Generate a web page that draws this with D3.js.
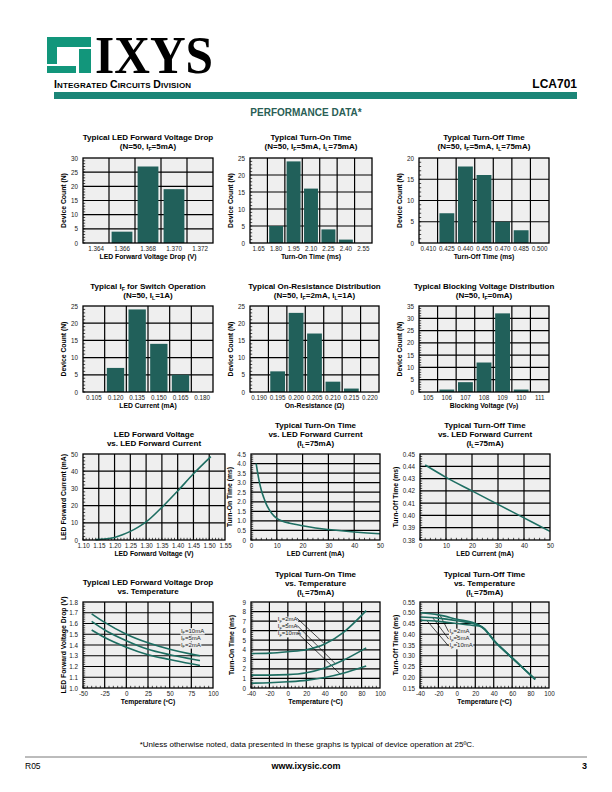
<!DOCTYPE html>
<html><head><meta charset="utf-8">
<script src="https://cdn.jsdelivr.net/npm/d3@7"></script>
<style>body{margin:0;background:#fff}</style>
</head><body>
<svg id="page" width="612" height="792" xmlns="http://www.w3.org/2000/svg"></svg>
<script>
// ---------------- DATA ----------------
const c1Cats = ["1.364","1.366","1.368","1.370","1.372"];
const c1Vals = [0,4,27,19,0];
const c1YTicks = [0,5,10,15,20,25,30];

const c2Cats = ["1.65","1.80","1.95","2.10","2.25","2.40","2.55"];
const c2Vals = [0,5,24,16,4,1,0];
const c2YTicks = [0,5,10,15,20,25];

const c3Cats = ["0.410","0.425","0.440","0.455","0.470","0.485","0.500"];
const c3Vals = [0,7,18,16,5,3,0];
const c3YTicks = [0,5,10,15,20];

const c4Cats = ["0.105","0.120","0.135","0.150","0.165","0.180"];
const c4Vals = [0,7,24,14,5,0];
const c4YTicks = [0,5,10,15,20,25];

const c5Cats = ["0.190","0.195","0.200","0.205","0.210","0.215","0.220"];
const c5Vals = [0,6,23,17,3,1,0];
const c5YTicks = [0,5,10,15,20,25];

const c6Cats = ["105","106","107","108","109","110","111"];
const c6Vals = [0,1,4,12,32,1,0];
const c6YTicks = [0,5,10,15,20,25,30,35];

// LED forward voltage (V) vs current (mA)
const c7Volt = [1.14,1.17,1.20,1.225,1.25,1.275,1.30,1.35,1.40,1.45,1.505];
const c7Curr = [0.2,0.6,1.5,3,5,7.5,10.5,19,28.5,38.5,48.5];
const c7XTicks = [1.10,1.15,1.20,1.25,1.30,1.35,1.40,1.45,1.50,1.55];
const c7YTicks = [0,10,20,30,40,50];

// Turn-on time (ms) vs LED current (mA)
const c8Curr = [2,3,4,5,6,7,8,10,12,15,20,25,30,35,40,45,50];
const c8Ton  = [4.0,3.2,2.6,2.2,1.85,1.6,1.4,1.13,1.0,0.88,0.75,0.63,0.55,0.48,0.42,0.37,0.33];
const c8XTicks = [0,10,20,30,40,50];
const c8YTicks = [0,0.5,1.0,1.5,2.0,2.5,3.0,3.5,4.0,4.5];

// Turn-off time (ms) vs LED current (mA)
const c9Curr = [2,10,20,30,40,50];
const c9Toff = [0.441,0.431,0.420,0.409,0.398,0.387];
const c9XTicks = [0,10,20,30,40,50];
const c9YTicks = [0.38,0.39,0.40,0.41,0.42,0.43,0.44,0.45];

// LED forward voltage drop vs temperature
const c10Temp = [-40,-25,0,25,50,75,85];
const c10Vf10 = [1.69,1.61,1.50,1.42,1.36,1.315,1.30];
const c10Vf5  = [1.62,1.54,1.44,1.36,1.31,1.27,1.255];
const c10Vf2  = [1.54,1.47,1.38,1.31,1.265,1.225,1.21];
const c10XTicks = [-50,-25,0,25,50,75,100];
const c10YTicks = [1.0,1.1,1.2,1.3,1.4,1.5,1.6,1.7,1.8];
const c10Labels = ["I{F}=10mA","I{F}=5mA","I{F}=2mA"];

// Turn-on time vs temperature
const c11Temp = [-40,-20,0,20,40,60,85];
const c11Ton2  = [3.6,3.65,3.8,4.0,4.6,5.8,8.1];
const c11Ton5  = [1.35,1.35,1.4,1.6,2.1,2.9,4.2];
const c11Ton10 = [0.5,0.55,0.65,0.8,1.1,1.55,2.3];
const c11XTicks = [-40,-20,0,20,40,60,80,100];
const c11YTicks = [0,1,2,3,4,5,6,7,8,9];
const c11Labels = ["I{F}=2mA","I{F}=5mA","I{F}=10mA"];

// Turn-off time vs temperature
const c12Temp = [-40,-20,0,20,25,30,35,40,50,60,70,85];
const c12Toff2  = [0.50,0.49,0.47,0.45,0.44,0.425,0.40,0.372,0.33,0.29,0.25,0.19];
const c12Toff5  = [0.48,0.475,0.463,0.447,0.44,0.425,0.40,0.372,0.33,0.29,0.25,0.19];
const c12Toff10 = [0.465,0.46,0.45,0.44,0.437,0.423,0.40,0.372,0.33,0.29,0.25,0.19];
const c12XTicks = [-40,-20,0,20,40,60,80,100];
const c12YTicks = [0.15,0.20,0.25,0.30,0.35,0.40,0.45,0.50,0.55];
const c12Labels = ["I{F}=2mA","I{F}=5mA","I{F}=10mA"];

// ---------------- STYLE ----------------
const NARROW = "'Liberation Sans Narrow','Arial Narrow','Liberation Sans',Arial,sans-serif";
const SANS = "'Liberation Sans',Arial,Helvetica,sans-serif";
const BAR = "#21605a";
const LINE = "#1d6e62";
const BG = "#efefef";
const TEAL = "#1b8577";
const intFmt = d => String(d);

const svg = d3.select("#page");

function rich(g, x, y, str, o = {}) {
  const fs = o.size || 7;
  const t = g.append("text").attr("x", x).attr("y", y)
    .attr("font-family", o.family || NARROW)
    .attr("font-size", fs)
    .attr("font-weight", o.weight || "normal")
    .attr("text-anchor", o.anchor || "middle")
    .attr("fill", o.fill || "#000");
  if (o.rotate) t.attr("transform", `rotate(-90,${x},${y})`);
  const parts = str.split(/(\{[^}]*\})/).filter(s => s.length);
  let shifted = false;
  parts.forEach(p => {
    if (p[0] === "{") {
      t.append("tspan").attr("dy", fs * 0.25).attr("font-size", fs * 0.65).text(p.slice(1, -1));
      shifted = true;
    } else {
      const sp = t.append("tspan").text(p);
      if (shifted) { sp.attr("dy", -fs * 0.25); shifted = false; }
    }
  });
  return t;
}

function titles(g, cx, ys, lines) {
  lines.forEach((l, i) => rich(g, cx, ys[i], l, { size: 8, weight: "bold" }));
}

function frame(g, x0, x1, y0, y1) {
  g.append("rect").attr("x", x0).attr("y", y0).attr("width", x1 - x0).attr("height", y1 - y0)
    .attr("fill", "none").attr("stroke", "#000").attr("stroke-width", 1.3);
}

function yAxisLabels(g, y, ticks, x0, fmt) {
  const ax = d3.axisLeft(y).tickValues(ticks).tickSize(0).tickPadding(5).tickFormat(fmt);
  const a = g.append("g").attr("transform", `translate(${x0},0)`).call(ax);
  a.select(".domain").remove();
  a.selectAll("text").attr("font-family", NARROW).attr("font-size", 6.3).attr("fill", "#222");
}
function xAxisLabels(g, x, ticks, y1, fmt) {
  const ax = d3.axisBottom(x).tickSize(0).tickPadding(4);
  if (ticks) ax.tickValues(ticks);
  if (fmt) ax.tickFormat(fmt);
  const a = g.append("g").attr("transform", `translate(0,${y1})`).call(ax);
  a.select(".domain").remove();
  a.selectAll("text").attr("font-family", NARROW).attr("font-size", 6.3).attr("fill", "#222");
}

function barChart(c) {
  const [x0, x1, y0, y1] = c.box;
  const g = svg.append("g");
  const x = d3.scaleBand().domain(c.cats).range([x0, x1]).padding(0);
  const yMax = c.yTicks[c.yTicks.length - 1];
  const y = d3.scaleLinear().domain([0, yMax]).range([y1, y0]);
  g.append("rect").attr("x", x0).attr("y", y0).attr("width", x1 - x0).attr("height", y1 - y0).attr("fill", BG);
  g.selectAll(".vg").data(c.cats.slice(1)).join("line")
    .attr("x1", d => x(d)).attr("x2", d => x(d)).attr("y1", y0).attr("y2", y1)
    .attr("stroke", "#000").attr("stroke-width", 1.2);
  g.selectAll(".hg").data(c.yTicks.slice(1, -1)).join("line")
    .attr("x1", x0).attr("x2", x1).attr("y1", d => y(d)).attr("y2", d => y(d))
    .attr("stroke", "#000").attr("stroke-width", 1.2);
  const bw = x.bandwidth();
  g.selectAll(".bar").data(c.cats.map((k, i) => ({ k, v: c.vals[i] }))).join("rect")
    .attr("x", d => x(d.k) + bw * 0.1).attr("width", bw * 0.8)
    .attr("y", d => y(d.v)).attr("height", d => y(0) - y(d.v)).attr("fill", BAR);
  g.selectAll(".mt").data(d3.range(0, yMax, 1)).join("line")
    .attr("x1", x0).attr("x2", x0 + 2.2).attr("y1", d => y(d)).attr("y2", d => y(d))
    .attr("stroke", "#000").attr("stroke-width", 0.7);
  frame(g, x0, x1, y0, y1);
  yAxisLabels(g, y, c.yTicks, x0, intFmt);
  xAxisLabels(g, x, null, y1);
  const cx = (x0 + x1) / 2;
  titles(g, cx, c.titleY, c.titles);
  rich(g, cx, y1 + 15.5, c.xLabel, { size: 6.8, weight: "bold" });
  rich(g, x0 - 17, (y0 + y1) / 2, c.yLabel, { size: 6.8, weight: "bold", rotate: true });
}

function lineChart(c) {
  const [x0, x1, y0, y1] = c.box;
  const g = svg.append("g");
  const x = d3.scaleLinear().domain([c.xTicks[0], c.xTicks[c.xTicks.length - 1]]).range([x0, x1]);
  const y = d3.scaleLinear().domain([c.yTicks[0], c.yTicks[c.yTicks.length - 1]]).range([y1, y0]);
  g.append("rect").attr("x", x0).attr("y", y0).attr("width", x1 - x0).attr("height", y1 - y0).attr("fill", BG);
  g.selectAll(".vg").data(c.xTicks.slice(1, -1)).join("line")
    .attr("x1", d => x(d)).attr("x2", d => x(d)).attr("y1", y0).attr("y2", y1)
    .attr("stroke", "#000").attr("stroke-width", 1.2);
  g.selectAll(".hg").data(c.yTicks.slice(1, -1)).join("line")
    .attr("x1", x0).attr("x2", x1).attr("y1", d => y(d)).attr("y2", d => y(d))
    .attr("stroke", "#000").attr("stroke-width", 1.2);
  const ym = d3.range(c.yTicks[0], c.yTicks[c.yTicks.length - 1] - 1e-9, c.yMinor);
  g.selectAll(".ymt").data(ym).join("line")
    .attr("x1", x0).attr("x2", x0 + 2.2).attr("y1", d => y(d)).attr("y2", d => y(d))
    .attr("stroke", "#000").attr("stroke-width", 0.7);
  const xm = d3.range(c.xTicks[0], c.xTicks[c.xTicks.length - 1] - 1e-9, c.xMinor);
  g.selectAll(".xmt").data(xm).join("line")
    .attr("x1", d => x(d)).attr("x2", d => x(d)).attr("y1", y1).attr("y2", y1 - 2.2)
    .attr("stroke", "#000").attr("stroke-width", 0.7);
  (c.labels || []).forEach(L => {
    const t = rich(g, x(L.x), y(L.y), L.text, { size: 6, anchor: "start", fill: "#222" });
    const bb = t.node().getBBox();
    g.insert("rect", () => t.node()).attr("x", bb.x - 0.5).attr("y", bb.y + 0.5)
      .attr("width", bb.width + 1).attr("height", bb.height - 1).attr("fill", BG);
  });
  (c.leaders || []).forEach(L => {
    g.append("line").attr("x1", x(L[0])).attr("y1", y(L[1])).attr("x2", x(L[2])).attr("y2", y(L[3]))
      .attr("stroke", "#000").attr("stroke-width", 0.7);
  });
  const line = d3.line().x(d => x(d[0])).y(d => y(d[1])).curve(d3.curveMonotoneX);
  c.series.forEach(s => {
    g.append("path").datum(c.xs.map((v, i) => [v, s[i]])).attr("d", line)
      .attr("fill", "none").attr("stroke", LINE).attr("stroke-width", 1.6);
  });
  frame(g, x0, x1, y0, y1);
  yAxisLabels(g, y, c.yTicks, x0, c.yFmt);
  xAxisLabels(g, x, c.xTicks, y1, c.xFmt);
  const cx = (x0 + x1) / 2;
  titles(g, cx, c.titleY, c.titles);
  rich(g, cx, y1 + 15.5, c.xLabel, { size: 6.8, weight: "bold" });
  rich(g, x0 - c.yLabOff, (y0 + y1) / 2, c.yLabel, { size: 6.8, weight: "bold", rotate: true });
}

// ---------------- HEADER ----------------
const hdr = svg.append("g");
const logo = [[47,37,44,10],[47,37,10,27],[79,49,12,24],[47,66,29,7]];
hdr.selectAll(".lg").data(logo).join("rect")
  .attr("x", d => d[0]).attr("y", d => d[1]).attr("width", d => d[2]).attr("height", d => d[3])
  .attr("fill", "#12967b");
hdr.append("text").attr("x", 95).attr("y", 73).attr("font-family", "'Liberation Serif','Times New Roman',serif")
  .attr("font-weight", "bold")
  .attr("font-size", 52).attr("textLength", 118).attr("lengthAdjust", "spacingAndGlyphs").text("IXYS");
const icd = hdr.append("text").attr("x", 54).attr("y", 88).attr("font-family", SANS).attr("font-weight", "bold")
  .attr("font-size", 8).attr("letter-spacing", 0.15);
[["I","NTEGRATED "],["C","IRCUITS "],["D","IVISION"]].forEach(p => {
  icd.append("tspan").attr("font-size", 10.5).text(p[0]);
  icd.append("tspan").text(p[1]);
});
hdr.append("text").attr("x", 577).attr("y", 88).attr("text-anchor", "end").attr("font-family", NARROW)
  .attr("font-weight", "bold").attr("font-size", 12).text("LCA701");
hdr.append("rect").attr("x", 54).attr("y", 92).attr("width", 523).attr("height", 7).attr("fill", TEAL);
hdr.append("text").attr("x", 306).attr("y", 116).attr("text-anchor", "middle").attr("font-family", NARROW)
  .attr("font-weight", "bold").attr("font-size", 10).attr("fill", "#2a5e55").text("PERFORMANCE DATA*");

// ---------------- CHARTS ----------------
const R1 = [140, 149], R2 = [289, 298];
barChart({ cats: c1Cats, vals: c1Vals, yTicks: c1YTicks, box: [83, 213, 158, 243], titleY: R1,
  titles: ["Typical LED Forward Voltage Drop", "(N=50, I{F}=5mA)"], xLabel: "LED Forward Voltage Drop (V)", yLabel: "Device Count (N)" });
barChart({ cats: c2Cats, vals: c2Vals, yTicks: c2YTicks, box: [250, 372, 158, 243], titleY: R1,
  titles: ["Typical Turn-On Time", "(N=50, I{F}=5mA, I{L}=75mA)"], xLabel: "Turn-On Time (ms)", yLabel: "Device Count (N)" });
barChart({ cats: c3Cats, vals: c3Vals, yTicks: c3YTicks, box: [419, 549, 158, 243], titleY: R1,
  titles: ["Typical Turn-Off Time", "(N=50, I{F}=5mA, I{L}=75mA)"], xLabel: "Turn-Off Time (ms)", yLabel: "Device Count (N)" });
barChart({ cats: c4Cats, vals: c4Vals, yTicks: c4YTicks, box: [83, 213, 306, 392], titleY: R2,
  titles: ["Typical I{F} for Switch Operation", "(N=50, I{L}=1A)"], xLabel: "LED Current (mA)", yLabel: "Device Count (N)" });
barChart({ cats: c5Cats, vals: c5Vals, yTicks: c5YTicks, box: [250, 379, 306, 392], titleY: R2,
  titles: ["Typical On-Resistance Distribution", "(N=50, I{F}=2mA, I{L}=1A)"], xLabel: "On-Resistance (\u03a9)", yLabel: "Device Count (N)" });
barChart({ cats: c6Cats, vals: c6Vals, yTicks: c6YTicks, box: [419, 549, 306, 392], titleY: R2,
  titles: ["Typical Blocking Voltage Distribution", "(N=50, I{F}=0mA)"], xLabel: "Blocking Voltage (V{P})", yLabel: "Device Count (N)" });

lineChart({ xs: c7Volt, series: [c7Curr], xTicks: c7XTicks, yTicks: c7YTicks, xMinor: 0.01, yMinor: 2,
  box: [83, 225, 454, 540], titleY: [437, 446], titles: ["LED Forward Voltage", "vs. LED Forward Current"],
  xLabel: "LED Forward Voltage (V)", yLabel: "LED Forward Current (mA)", yLabOff: 17,
  xFmt: d3.format(".2f"), yFmt: intFmt });
lineChart({ xs: c8Curr, series: [c8Ton], xTicks: c8XTicks, yTicks: c8YTicks, xMinor: 2, yMinor: 0.1,
  box: [251, 380, 454, 540], titleY: [428, 437, 446], titles: ["Typical Turn-On Time", "vs. LED Forward Current", "(I{L}=75mA)"],
  xLabel: "LED Current (mA)", yLabel: "Turn-On Time (ms)", yLabOff: 19,
  xFmt: intFmt, yFmt: d => d === 0 ? "0" : d3.format(".1f")(d) });
lineChart({ xs: c9Curr, series: [c9Toff], xTicks: c9XTicks, yTicks: c9YTicks, xMinor: 2, yMinor: 0.002,
  box: [420, 550, 454, 540], titleY: [428, 437, 446], titles: ["Typical Turn-Off Time", "vs. LED Forward Current", "(I{L}=75mA)"],
  xLabel: "LED Current (mA)", yLabel: "Turn-Off Time (ms)", yLabOff: 22,
  xFmt: intFmt, yFmt: d3.format(".2f") });

lineChart({ xs: c10Temp, series: [c10Vf10, c10Vf5, c10Vf2], xTicks: c10XTicks, yTicks: c10YTicks, xMinor: 5, yMinor: 0.02,
  box: [83, 213, 602, 688], titleY: [585, 594], titles: ["Typical LED Forward Voltage Drop", "vs. Temperature"],
  xLabel: "Temperature (\u00baC)", yLabel: "LED Forward Voltage Drop (V)", yLabOff: 17,
  xFmt: intFmt, yFmt: d3.format(".1f"),
  labels: [{ x: 63, y: 1.515, text: c10Labels[0] }, { x: 63, y: 1.45, text: c10Labels[1] }, { x: 63, y: 1.385, text: c10Labels[2] }] });
lineChart({ xs: c11Temp, series: [c11Ton2, c11Ton5, c11Ton10], xTicks: c11XTicks, yTicks: c11YTicks, xMinor: 4, yMinor: 0.2,
  box: [251, 380, 602, 688], titleY: [577, 586, 595], titles: ["Typical Turn-On Time", "vs. Temperature", "(I{L}=75mA)"],
  xLabel: "Temperature (\u00baC)", yLabel: "Turn-On Time (ms)", yLabOff: 17,
  xFmt: intFmt, yFmt: intFmt,
  labels: [{ x: -11, y: 7.0, text: c11Labels[0] }, { x: -11, y: 6.25, text: c11Labels[1] }, { x: -11, y: 5.5, text: c11Labels[2] }],
  leaders: [[10, 7.3, 40, 4.6], [10, 6.55, 52, 2.5], [10, 5.8, 57, 1.45]] });
lineChart({ xs: c12Temp, series: [c12Toff2, c12Toff5, c12Toff10], xTicks: c12XTicks, yTicks: c12YTicks, xMinor: 4, yMinor: 0.01,
  box: [420, 549, 602, 688], titleY: [577, 586, 595], titles: ["Typical Turn-Off Time", "vs. Temperature", "(I{L}=75mA)"],
  xLabel: "Temperature (\u00baC)", yLabel: "Turn-Off Time (ms)", yLabOff: 22,
  xFmt: intFmt, yFmt: d3.format(".2f"),
  labels: [{ x: -8, y: 0.405, text: c12Labels[0] }, { x: -8, y: 0.372, text: c12Labels[1] }, { x: -8, y: 0.339, text: c12Labels[2] }],
  leaders: [[-18, 0.487, -9, 0.412], [-26, 0.476, -9, 0.378], [-33, 0.466, -9, 0.345]] });

// ---------------- FOOTER ----------------
const ft = svg.append("g");
ft.append("text").attr("x", 307).attr("y", 747).attr("text-anchor", "middle").attr("font-family", NARROW)
  .attr("font-size", 8).text("*Unless otherwise noted, data presented in these graphs is typical of device operation at 25\u00baC.");
ft.append("line").attr("x1", 25).attr("x2", 587).attr("y1", 757).attr("y2", 757).attr("stroke", "#555").attr("stroke-width", 0.8);
ft.append("text").attr("x", 25).attr("y", 769).attr("font-family", SANS).attr("font-size", 8.5).text("R05");
ft.append("text").attr("x", 306).attr("y", 769).attr("text-anchor", "middle").attr("font-family", SANS)
  .attr("font-weight", "bold").attr("font-size", 9).text("www.ixysic.com");
ft.append("text").attr("x", 587).attr("y", 769).attr("text-anchor", "end").attr("font-family", SANS)
  .attr("font-weight", "bold").attr("font-size", 9).text("3");
</script>
</body></html>
